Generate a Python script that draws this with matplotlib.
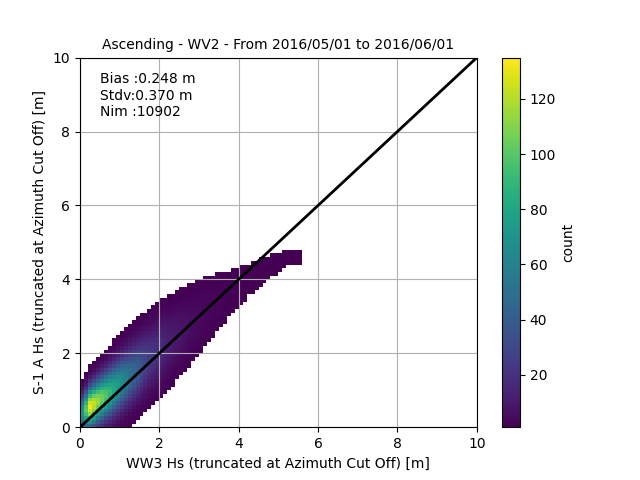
import numpy as np
import matplotlib
matplotlib.use("Agg")
import matplotlib.pyplot as plt

# Column profile values (per 0.5 m of WW3 Hs)
x_knots = [0.05, 0.25, 0.75, 1.25, 1.75, 2.25, 2.75, 3.25, 3.75, 4.25, 4.75, 5.25]
peak_count = [70, 132, 90, 50, 25, 12, 6, 3, 1.8, 1.3, 1.1, 1.0]
y_mean = [0.4, 0.55, 0.95, 1.4, 1.85, 2.3, 2.75, 3.2, 3.6, 4.0, 4.3, 4.6]
y_std = [0.3, 0.35, 0.42, 0.48, 0.52, 0.55, 0.55, 0.55, 0.5, 0.45, 0.4, 0.35]
x_max = 5.6
title = "Ascending - WV2 - From 2016/05/01 to 2016/06/01"
stats_text = "Bias :0.248 m\nStdv:0.370 m\nNim :10902"

edges = np.linspace(0, 10, 101)
centers = 0.5 * (edges[:-1] + edges[1:])
X, Y = np.meshgrid(centers, centers, indexing="ij")
pk = np.interp(X, x_knots, peak_count)
mu = np.interp(X, x_knots, y_mean)
sd = np.interp(X, x_knots, y_std)
counts = pk * np.exp(-0.5 * ((Y - mu) / sd) ** 2)
counts[X > x_max] = 0
counts = np.where(counts >= 0.8, np.maximum(counts, 1), np.nan)

fig, ax = plt.subplots(figsize=(6.4, 4.8), dpi=100)
mesh = ax.pcolormesh(edges, edges, counts.T, cmap="viridis", vmin=1, vmax=135)
cb = fig.colorbar(mesh, ax=ax)
cb.set_label("count")
ax.plot([0, 10], [0, 10], color="black", lw=2)
ax.set_xlim(0, 10)
ax.set_ylim(0, 10)
ax.grid(True)
ax.set_xlabel("WW3 Hs (truncated at Azimuth Cut Off) [m]")
ax.set_ylabel("S-1 A Hs (truncated at Azimuth Cut Off) [m]")
ax.set_title(title, fontsize=10)
ax.text(0.5, 9.6, stats_text, va="top", ha="left")
fig.savefig("out.png")
